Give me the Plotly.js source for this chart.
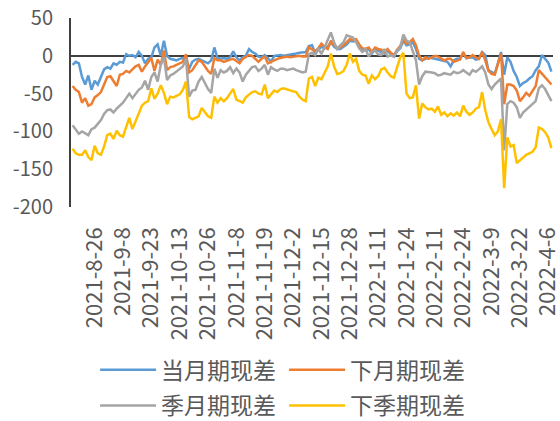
<!DOCTYPE html>
<html>
<head>
<meta charset="utf-8">
<script src="https://cdn.plot.ly/plotly-3.0.1.min.js"></script>
<style>
  html, body { margin: 0; padding: 0; background: #ffffff; }
  #chart { width: 560px; height: 421px; }
</style>
</head>
<body>
<div id="chart"></div>
<script>
// trading days, 2021-8-17 .. 2022-4-7
const dates = [
  '2021-8-17', '2021-8-18', '2021-8-19', '2021-8-20', '2021-8-23', '2021-8-24', '2021-8-25', '2021-8-26', '2021-8-27', '2021-8-30', '2021-8-31',
  '2021-9-1', '2021-9-2', '2021-9-3', '2021-9-6', '2021-9-7', '2021-9-8', '2021-9-9', '2021-9-10', '2021-9-13', '2021-9-14',
  '2021-9-15', '2021-9-16', '2021-9-17', '2021-9-22', '2021-9-23', '2021-9-24', '2021-9-27', '2021-9-28', '2021-9-29', '2021-9-30',
  '2021-10-8', '2021-10-11', '2021-10-12', '2021-10-13', '2021-10-14', '2021-10-15', '2021-10-18', '2021-10-19', '2021-10-20', '2021-10-21',
  '2021-10-22', '2021-10-25', '2021-10-26', '2021-10-27', '2021-10-28', '2021-10-29',
  '2021-11-1', '2021-11-2', '2021-11-3', '2021-11-4', '2021-11-5', '2021-11-8', '2021-11-9', '2021-11-10', '2021-11-11', '2021-11-12',
  '2021-11-15', '2021-11-16', '2021-11-17', '2021-11-18', '2021-11-19', '2021-11-22', '2021-11-23', '2021-11-24', '2021-11-25', '2021-11-26',
  '2021-11-29', '2021-11-30',
  '2021-12-1', '2021-12-2', '2021-12-3', '2021-12-6', '2021-12-7', '2021-12-8', '2021-12-9', '2021-12-10', '2021-12-13', '2021-12-14',
  '2021-12-15', '2021-12-16', '2021-12-17', '2021-12-20', '2021-12-21', '2021-12-22', '2021-12-23', '2021-12-24', '2021-12-27', '2021-12-28',
  '2021-12-29', '2021-12-30', '2021-12-31',
  '2022-1-4', '2022-1-5', '2022-1-6', '2022-1-7', '2022-1-10', '2022-1-11', '2022-1-12', '2022-1-13', '2022-1-14', '2022-1-17',
  '2022-1-18', '2022-1-19', '2022-1-20', '2022-1-21', '2022-1-24', '2022-1-25', '2022-1-26', '2022-1-27', '2022-1-28',
  '2022-2-7', '2022-2-8', '2022-2-9', '2022-2-10', '2022-2-11', '2022-2-14', '2022-2-15', '2022-2-16', '2022-2-17', '2022-2-18',
  '2022-2-21', '2022-2-22', '2022-2-23', '2022-2-24', '2022-2-25', '2022-2-28',
  '2022-3-1', '2022-3-2', '2022-3-3', '2022-3-4', '2022-3-7', '2022-3-8', '2022-3-9', '2022-3-10', '2022-3-11', '2022-3-14',
  '2022-3-15', '2022-3-16', '2022-3-17', '2022-3-18', '2022-3-21', '2022-3-22', '2022-3-23', '2022-3-24', '2022-3-25', '2022-3-28',
  '2022-3-29', '2022-3-30', '2022-3-31',
  '2022-4-1', '2022-4-6', '2022-4-7'
];

const tickLabels = [
  '2021-8-26', '2021-9-8', '2021-9-23', '2021-10-13', '2021-10-26', '2021-11-8', '2021-11-19', '2021-12-2', '2021-12-15',
  '2021-12-28', '2022-1-11', '2022-1-24', '2022-2-11', '2022-2-24', '2022-3-9', '2022-3-22', '2022-4-6'
];

const yTicks = [-200, -150, -100, -50, 0, 50];

// 当月期现差
const basisCurrent = [
  -12, -8, -10, -28, -38, -26, -45, -33, -38, -29,
  -18, -15, -17, -10, -12, -8, -9, 2, 0, 1,
  -2, 5, 0, -10, -4, -2, 11, 15, 0, 20,
  0, -4, -5, -6, -4, -3, -4, -17, -8, -5,
  -4, -6, -8, -10, -6, 11, -3, -4, -3, -4,
  -2, 6, -2, -6, -2, 0, 9, 5, 3, -1,
  -2, 1, -3, -8, 0, 1, 1, 0, 1, 1,
  2, 3, 4, 5, 5, 13, 14, 4, 8, 12,
  10, 12, 18, 12, 9, 9, 12, 15, 20, 19,
  20, 13, 8, 7, 9, 3, 9, 7, 6, 3,
  7, 2, -1, 6, 10, 20, 14, 15, 18, 9,
  -4, -6, -4, -2, -3, -4, -4, -6, -7, -8,
  -14, -6, -4, -4, 3, -3, -2, -2, -5, -4,
  5, 1, -19, -21, -24, -10, 5, -25, -2, -8,
  -20, -28, -40, -36, -34, -30, -27, -19, -14, 1,
  -4, -9, -21
];

// 下月期现差
const basisNextMonth = [
  -40, -45, -48, -62, -56, -66, -64, -55, -52, -48,
  -38, -28, -27, -33, -40, -25, -24, -20, -22, -18,
  -14, -12, -21, -14, -8, -3, -20, -5, -12, 7,
  -19, -15, -14, -12, -10, -8, 2, -22, -19, -12,
  -6, -8, -14, -20, -24, -3, -6, -6, -8, -6,
  -5, -4, -7, -10, -4, -2, 1, 0, -4, -8,
  -4, -1, -10, -8, -5, -4, -3, -2, -1, -2,
  -1, -1, 0, -1, -1, 11, 9, 6, 10, 16,
  12, 9, 20, 14, 11, 11, 14, 18, 22, 21,
  22, 15, 10, 9, 11, 5, 11, 9, 8, 5,
  9, 4, 1, 8, 13, 22, 16, 18, 22, 14,
  0, -6, -2, -4, -2, 0, -1, -3, -6, -4,
  -4, -8, -6, -5, 5, -3, -2, 1, -2, -4,
  5, -6, -20, -24, -25, -12, 3, -64, -38, -38,
  -40, -46, -60, -55, -49, -53, -46, -40, -19, -24,
  -28, -33, -38
];

// 季月期现差
const basisQuarter = [
  -92, -98, -103, -100, -103, -105, -97, -95, -90, -85,
  -77, -72, -71, -75, -70, -66, -62, -56, -50, -56,
  -50, -45, -42, -33, -45, -28, -22, -34, -12, -2,
  -32, -26, -24, -21, -18, -14, -4, -54, -46, -45,
  -34, -28, -36, -44, -49, -17, -29, -19, -22, -20,
  -15, -23, -17, -22, -34, -25, -20, -15, -14, -20,
  -17, -12, -25, -15, -18, -20, -17, -17, -19, -18,
  -17, -19, -20, -22, -21, 2, 4, 1, 9, 3,
  11, 22, 31, 18, 9, 14, 18, 27, 25, 24,
  18, 10, 5, 9, -1, 5, 7, 2, 1, 9,
  -1, 1, -1, 7, 11, 28, 20, 18, 6, -6,
  -38, -27, -21, -21, -22, -23, -26, -25, -23, -24,
  -25, -21, -23, -22, -19, -22, -25, -19, -21, -18,
  -14, -22, -38, -44, -38, -34, -30, -125, -64, -60,
  -62, -68, -82, -75, -71, -68, -63, -60, -43, -39,
  -44, -52, -60
];

// 下季期现差
const basisNextQuarter = [
  -123, -129, -131, -131, -125, -134, -138, -119, -129, -131,
  -120, -105, -103, -110, -99, -105, -107, -95, -82, -97,
  -86, -77, -66, -62, -60, -43, -57, -50, -39, -49,
  -64, -54, -55, -53, -51, -45, -34, -81, -84, -82,
  -80, -69, -75, -80, -82, -54, -62, -56, -60, -56,
  -50, -44, -58, -60, -62, -55, -52, -48, -47, -50,
  -51, -38, -56, -51, -46, -48, -44, -43, -44, -46,
  -47, -48, -54, -58, -60, -30, -28, -40, -29, -31,
  -22, -14, 3, -14, -24, -23, -20, -12, 3, -8,
  -4, -20, -25, -26, -37, -26, -31, -27, -18, -16,
  -22, -27, -29, -16, -2, 4, -50, -56, -55, -39,
  -83, -63, -68, -71, -70, -74, -67, -78, -75, -80,
  -76, -79, -75, -80, -66, -74, -78, -75, -70, -68,
  -48, -72, -88, -97, -105, -100, -84, -175, -108, -120,
  -118, -142, -138, -135, -131, -129, -127, -121, -95, -97,
  -101, -108, -122
];

const seriesNames = ['当月期现差', '下月期现差', '季月期现差', '下季期现差'];
const seriesColors = ['#5B9BD5', '#ED7D31', '#A5A5A5', '#FFC000'];
const seriesValues = [basisCurrent, basisNextMonth, basisQuarter, basisNextQuarter];
// two legend rows, two entries each
const seriesLegend = ['legend', 'legend', 'legend2', 'legend2'];

const FONT = '"Noto Sans CJK SC", "Noto Sans", sans-serif';
const TEXT = '#595959';
const AXIS = '#404040';

const traces = seriesValues.map((vals, k) => ({
  type: 'scatter',
  mode: 'lines',
  x: dates,
  y: vals,
  name: seriesNames[k],
  legend: seriesLegend[k],
  line: { color: seriesColors[k], width: 2.5 },
  hoverinfo: 'x+y+name'
}));

function legendRow(y) {
  return {
    orientation: 'h',
    x: 0.05,
    xanchor: 'left',
    y: y,
    yanchor: 'middle',
    itemwidth: 56,
    entrywidth: 118,
    font: { family: FONT, size: 23, color: TEXT },
    bgcolor: 'rgba(0,0,0,0)',
    borderwidth: 0
  };
}

const layout = {
  width: 560,
  height: 421,
  margin: { l: 71, r: 7, t: 18, b: 214, autoexpand: false },
  paper_bgcolor: '#ffffff',
  plot_bgcolor: '#ffffff',
  font: { family: FONT, color: TEXT },
  showlegend: true,
  legend: legendRow(-0.862),
  legend2: legendRow(-1.05),
  xaxis: {
    type: 'category',
    range: [-0.5, dates.length - 0.5],
    tickmode: 'array',
    tickvals: tickLabels,
    ticktext: tickLabels,
    tickangle: -90,
    ticks: '',
    ticklabelstandoff: 15,
    showgrid: false,
    zeroline: false,
    showline: false,
    automargin: false,
    tickfont: { family: FONT, size: 22, color: TEXT }
  },
  yaxis: {
    range: [-200, 50],
    tickmode: 'array',
    tickvals: yTicks,
    ticktext: yTicks.map(String),
    ticks: '',
    ticklabelstandoff: 12,
    showgrid: false,
    zeroline: true,
    zerolinecolor: AXIS,
    zerolinewidth: 2,
    showline: true,
    linecolor: AXIS,
    linewidth: 2,
    automargin: false,
    tickfont: { family: FONT, size: 20, color: TEXT }
  }
};

Plotly.newPlot('chart', traces, layout, { displayModeBar: false, staticPlot: true });
</script>
</body>
</html>
